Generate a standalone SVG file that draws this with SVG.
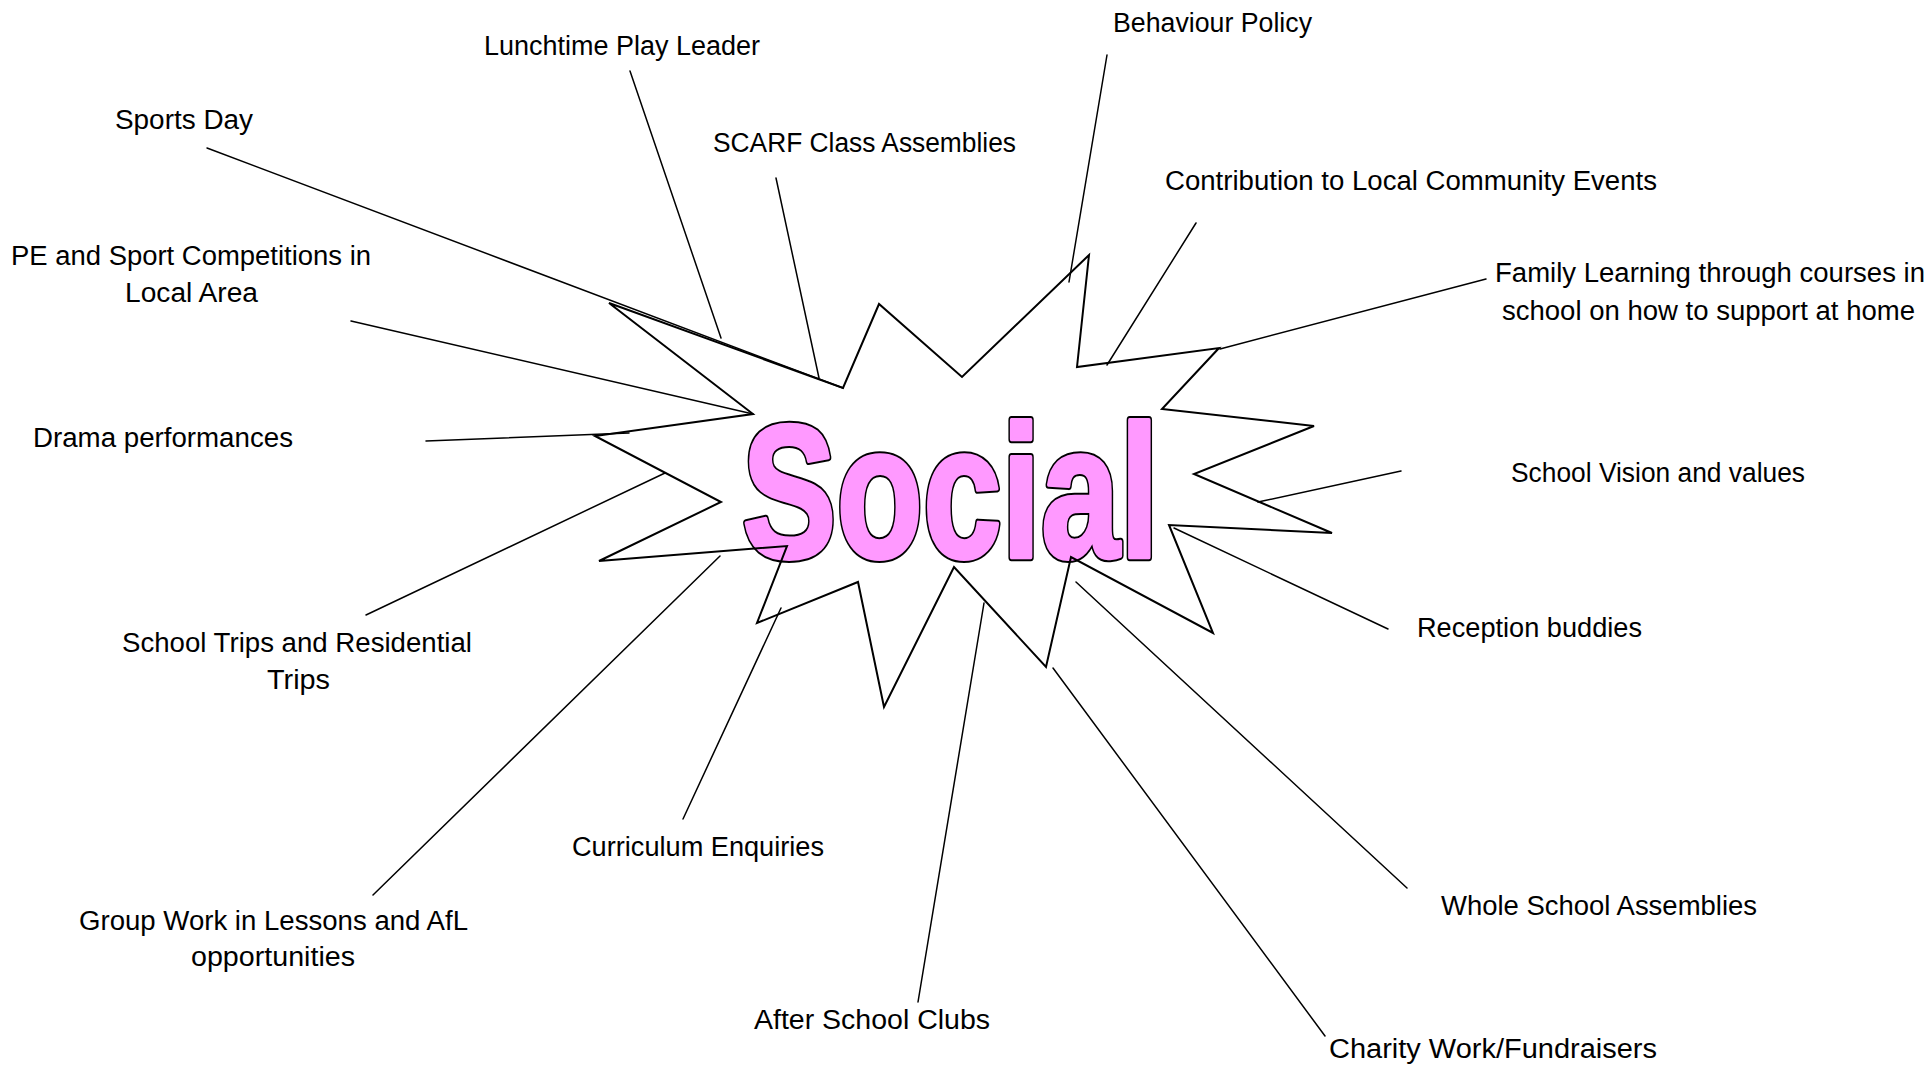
<svg xmlns="http://www.w3.org/2000/svg" width="1932" height="1066" viewBox="0 0 1932 1066">
<style>
.lbl{font-family:"Liberation Sans","DejaVu Sans",sans-serif;font-size:27px;fill:#000}
.con line{stroke:#000;stroke-width:1.5;fill:none;stroke-linecap:round}
.burst{fill:none;stroke:#000;stroke-width:2;stroke-linejoin:miter}
.title{font-family:"Liberation Sans",Arial,sans-serif;font-weight:bold;font-size:190px;stroke-linejoin:round}
.title-out{fill:#000;stroke:#000;stroke-width:8}
.title-in{fill:#FF99FF;stroke:#FF99FF;stroke-width:4}
</style>
<rect width="1932" height="1066" fill="#fff"/>
<g id="social">
<text class="title title-out" x="742" y="557" textLength="417" lengthAdjust="spacingAndGlyphs">Social</text>
<text class="title title-in" x="742" y="557" textLength="417" lengthAdjust="spacingAndGlyphs">Social</text>
<polygon class="burst" points="609,303 843,388 879,304 962,377 1089,255 1077,367 1219,348 1162,409 1314,426 1194,474 1332,533 1169,525 1213,633 1071,557 1046,667 954,567 884,707 858,582 757,623 787,546 599,561 721,502 595,436 753,414"/>
</g>
<g id="connectors" class="con">
<line x1="207" y1="148" x2="843" y2="388"/>
<line x1="630" y1="71" x2="721" y2="338"/>
<line x1="776" y1="178" x2="819" y2="378"/>
<line x1="351" y1="321" x2="753" y2="414"/>
<line x1="426" y1="441" x2="629" y2="433"/>
<line x1="366" y1="615" x2="665" y2="473"/>
<line x1="373" y1="895" x2="720" y2="556"/>
<line x1="683" y1="819" x2="781" y2="608"/>
<line x1="918" y1="1002" x2="984" y2="603"/>
<line x1="1325" y1="1036" x2="1053" y2="668"/>
<line x1="1407" y1="888" x2="1076" y2="582"/>
<line x1="1388" y1="629" x2="1174" y2="528"/>
<line x1="1401" y1="471" x2="1258" y2="502"/>
<line x1="1486" y1="279" x2="1220" y2="349"/>
<line x1="1196" y1="223" x2="1107" y2="365"/>
<line x1="1107" y1="55" x2="1069" y2="282"/>
</g>
<g id="lunchtime"><text class="lbl" x="484" y="55" textLength="276" lengthAdjust="spacingAndGlyphs">Lunchtime Play Leader</text></g>
<g id="sports-day"><text class="lbl" x="115" y="129" textLength="138" lengthAdjust="spacingAndGlyphs">Sports Day</text></g>
<g id="scarf"><text class="lbl" x="713" y="152" textLength="303" lengthAdjust="spacingAndGlyphs">SCARF Class Assemblies</text></g>
<g id="behaviour"><text class="lbl" x="1113" y="32" textLength="199" lengthAdjust="spacingAndGlyphs">Behaviour Policy</text></g>
<g id="contribution"><text class="lbl" x="1165" y="190" textLength="492" lengthAdjust="spacingAndGlyphs">Contribution to Local Community Events</text></g>
<g id="family"><text class="lbl" x="1495" y="282" textLength="430" lengthAdjust="spacingAndGlyphs">Family Learning through courses in</text><text class="lbl" x="1502" y="320" textLength="413" lengthAdjust="spacingAndGlyphs">school on how to support at home</text></g>
<g id="pe"><text class="lbl" x="11" y="265" textLength="360" lengthAdjust="spacingAndGlyphs">PE and Sport Competitions in</text><text class="lbl" x="125" y="302" textLength="133" lengthAdjust="spacingAndGlyphs">Local Area</text></g>
<g id="drama"><text class="lbl" x="33" y="447" textLength="260" lengthAdjust="spacingAndGlyphs">Drama performances</text></g>
<g id="vision"><text class="lbl" x="1511" y="482" textLength="294" lengthAdjust="spacingAndGlyphs">School Vision and values</text></g>
<g id="trips"><text class="lbl" x="122" y="652" textLength="350" lengthAdjust="spacingAndGlyphs">School Trips and Residential</text><text class="lbl" x="267" y="689" textLength="63" lengthAdjust="spacingAndGlyphs">Trips</text></g>
<g id="reception"><text class="lbl" x="1417" y="637" textLength="225" lengthAdjust="spacingAndGlyphs">Reception buddies</text></g>
<g id="curriculum"><text class="lbl" x="572" y="856" textLength="252" lengthAdjust="spacingAndGlyphs">Curriculum Enquiries</text></g>
<g id="group-work"><text class="lbl" x="79" y="930" textLength="389" lengthAdjust="spacingAndGlyphs">Group Work in Lessons and AfL</text><text class="lbl" x="191" y="966" textLength="164" lengthAdjust="spacingAndGlyphs">opportunities</text></g>
<g id="whole-school"><text class="lbl" x="1441" y="915" textLength="316" lengthAdjust="spacingAndGlyphs">Whole School Assemblies</text></g>
<g id="after-school"><text class="lbl" x="754" y="1029" textLength="236" lengthAdjust="spacingAndGlyphs">After School Clubs</text></g>
<g id="charity"><text class="lbl" x="1329" y="1058" textLength="328" lengthAdjust="spacingAndGlyphs">Charity Work/Fundraisers</text></g>
</svg>
